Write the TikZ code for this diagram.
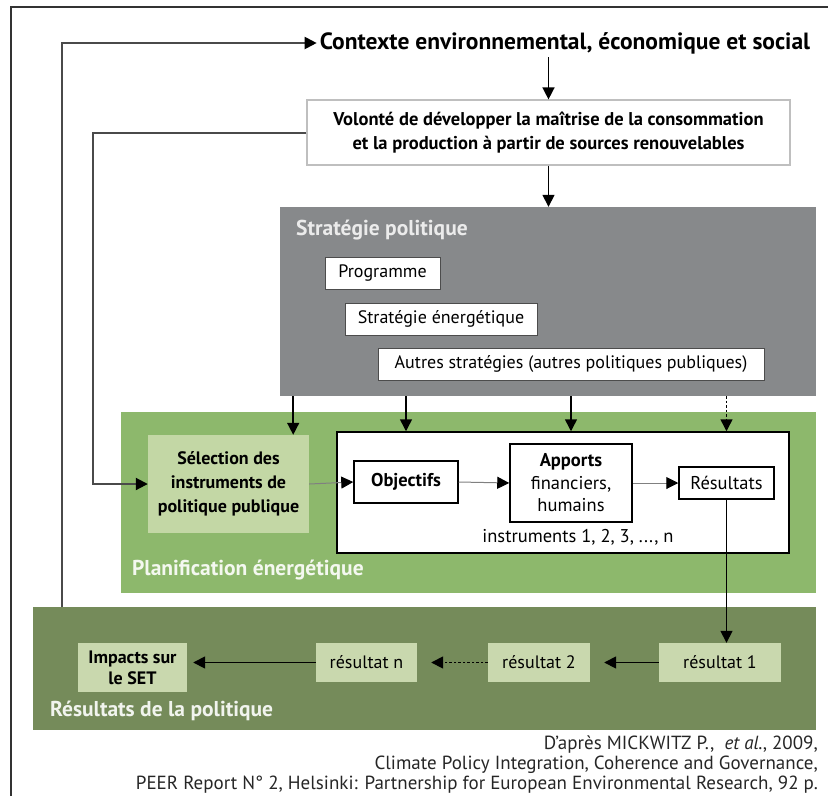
\documentclass[tikz,border=0pt]{standalone}
\usepackage{fontspec}
\setmainfont{PT Sans}
\usepackage{tikz}
\usetikzlibrary{shapes,arrows.meta,positioning}
\usetikzlibrary{calc}

\definecolor{stratgray}{HTML}{87898B}
\definecolor{planigreen}{HTML}{8DB86C}
\definecolor{selgreen}{HTML}{C3D7A5}
\definecolor{bilangreen}{HTML}{758B5A}
\definecolor{resbox}{HTML}{C9D8AE}
\definecolor{loopgray}{HTML}{4A4A4A}

\begin{document}
\begin{tikzpicture}
  [
    x=1pt, y=-1pt,
    Panel/.style={rectangle, inner sep=0pt},
    Title/.style={anchor=west, inner sep=0pt, font=\fontsize{21.5}{24}\selectfont\bfseries},
    Sub/.style={rectangle, draw=black!70, fill=white, line width=1pt, inner sep=0pt, font=\fontsize{18}{20}\selectfont},
    Box/.style={rectangle, draw=black, fill=white, line width=1.5pt, inner sep=0pt, align=center},
    Res/.style={rectangle, fill=resbox, inner sep=0pt, align=center, font=\fontsize{18}{21}\selectfont},
    Arrow/.style={-{Triangle[length=12pt, width=12pt]}, line width=1.5pt},
    Dots/.style={dash pattern=on 2.5pt off 2pt},
    Thin/.style={-{Triangle[length=12pt, width=12pt, color=black]}, line width=1pt, draw=black!50},
    Loop/.style={-{Triangle[length=12pt, width=12pt, color=black]}, line width=2pt, draw=loopgray}
  ]
  \useasboundingbox (0,0) rectangle (828,796);
  \draw[line width=2pt, black!80] (11,796) -- (11,7) -- (828,7);

  % Panels
  \node[Panel, fill=stratgray, minimum width=536pt, minimum height=189pt] (strat) at (548, 301.5) {};
  \node[Panel, fill=planigreen, minimum width=695pt, minimum height=181pt] (plan) at (468.5, 502.5) {};
  \node[Panel, fill=bilangreen, minimum width=783pt, minimum height=123pt] (bilan) at (424.5, 668.5) {};

  % Nodes
  \node[inner sep=3pt, font=\fontsize{23.5}{26}\selectfont\bfseries] (ctx) at (565, 43) {Contexte environnemental, économique et social};

  \node[Panel, draw=black!25, fill=white, line width=1.2pt, minimum width=483pt, minimum height=65pt, align=center, font=\fontsize{18.5}{24}\selectfont\bfseries] (vol) at (548.5, 132.5) {Volonté de développer la maîtrise de la consommation\\ et la production à partir de sources renouvelables};

  \node[Title, text=black!8] (stratT) at (296, 230) {Stratégie politique};
  \node[Sub, minimum width=115pt, minimum height=32pt] (prog) at (382.5, 273) {Programme};
  \node[Sub, minimum width=192pt, minimum height=32pt] (senerg) at (441, 319) {Stratégie énergétique};
  \node[Sub, minimum width=386pt, minimum height=32pt] (autres) at (571, 364) {Autres stratégies (autres politiques publiques)};

  \node[Panel, fill=selgreen, minimum width=161pt, minimum height=98pt, align=center, font=\fontsize{18}{24}\selectfont\bfseries] (sel) at (228.5, 484) {Sélection des\\ instruments de\\ politique publique};
  \node[Box, minimum width=452pt, minimum height=121pt] (inst) at (563, 492.5) {};
  \node[Box, minimum width=104pt, minimum height=42pt, font=\fontsize{18.5}{20}\selectfont\bfseries] (obj) at (406, 482) {Objectifs};
  \node[Box, minimum width=122pt, minimum height=78pt, font=\fontsize{18.5}{22.5}\selectfont] (app) at (571, 483) {\textbf{Apports}\\ financiers,\\ humains};
  \node[Box, minimum width=95pt, minimum height=32pt, font=\fontsize{18.5}{20}\selectfont] (res) at (726.5, 483) {Résultats};
  \node[font=\fontsize{18.5}{20}\selectfont] (instn) at (578, 537) {instruments 1, 2, 3, ..., n};
  \node[Title, text=white!90!planigreen] (planT) at (132, 570) {Planification énergétique};

  \node[Res, minimum width=109pt, minimum height=49pt, font=\fontsize{18}{21}\selectfont\bfseries] (impact) at (132.5, 667.5) {Impacts sur\\ le SET};
  \node[Res, minimum width=101pt, minimum height=39pt] (rn) at (366.5, 662.5) {résultat n};
  \node[Res, minimum width=102pt, minimum height=39pt] (r2) at (539, 662.5) {résultat 2};
  \node[Res, minimum width=122pt, minimum height=39pt] (r1) at (720, 662.5) {résultat 1};
  \node[Title, text=white!90!bilangreen] (bilanT) at (50, 711) {Résultats de la politique};

  \node[anchor=east, align=right, inner sep=0pt, text=black!85, font=\fontsize{19}{20}\selectfont] (src) at (818, 765) {D'après MICKWITZ P.,~ \textit{et al.}, 2009,\\ Climate Policy Integration, Coherence and Governance,\\ PEER Report N° 2, Helsinki: Partnership for European Environmental Research, 92 p.};

  \coordinate (fb) at (62, 607);
  \coordinate (vl) at (93, 300);
  \coordinate (selin) at ([xshift=-16pt]sel.north east);

  % Lines
  \draw[Loop] (fb) |- (ctx.west);
  \draw[Loop] (vol.west) -- (vol.west -| vl) |- (sel.west);
  \draw[Arrow] (vol.north |- ctx.south) -- (vol.north);
  \draw[Arrow] (vol.south) -- (vol.south |- strat.north);

  \draw[Arrow] (selin |- strat.south) -- (selin);
  \draw[Arrow] (obj.north |- strat.south) -- (obj.north |- inst.north);
  \draw[Arrow] (app.north |- strat.south) -- (app.north |- inst.north);
  \draw[Arrow, Dots] (res.north |- strat.south) -- (res.north |- inst.north);

  \draw[Thin] (sel.east) -- (obj.west);
  \draw[Thin] (obj.east) -- (app.west);
  \draw[Thin] (app.east) -- (res.west);

  \draw[Arrow] (res.south) -- (res.south |- r1.north);
  \draw[Arrow, shorten >=14pt] (r1.west) -- (r2.east);
  \draw[Arrow, Dots, shorten >=14pt] (r2.west) -- (rn.east);
  \draw[Arrow, shorten >=6pt] (rn.west) -- (rn.west -| impact.east);

\end{tikzpicture}
\end{document}
